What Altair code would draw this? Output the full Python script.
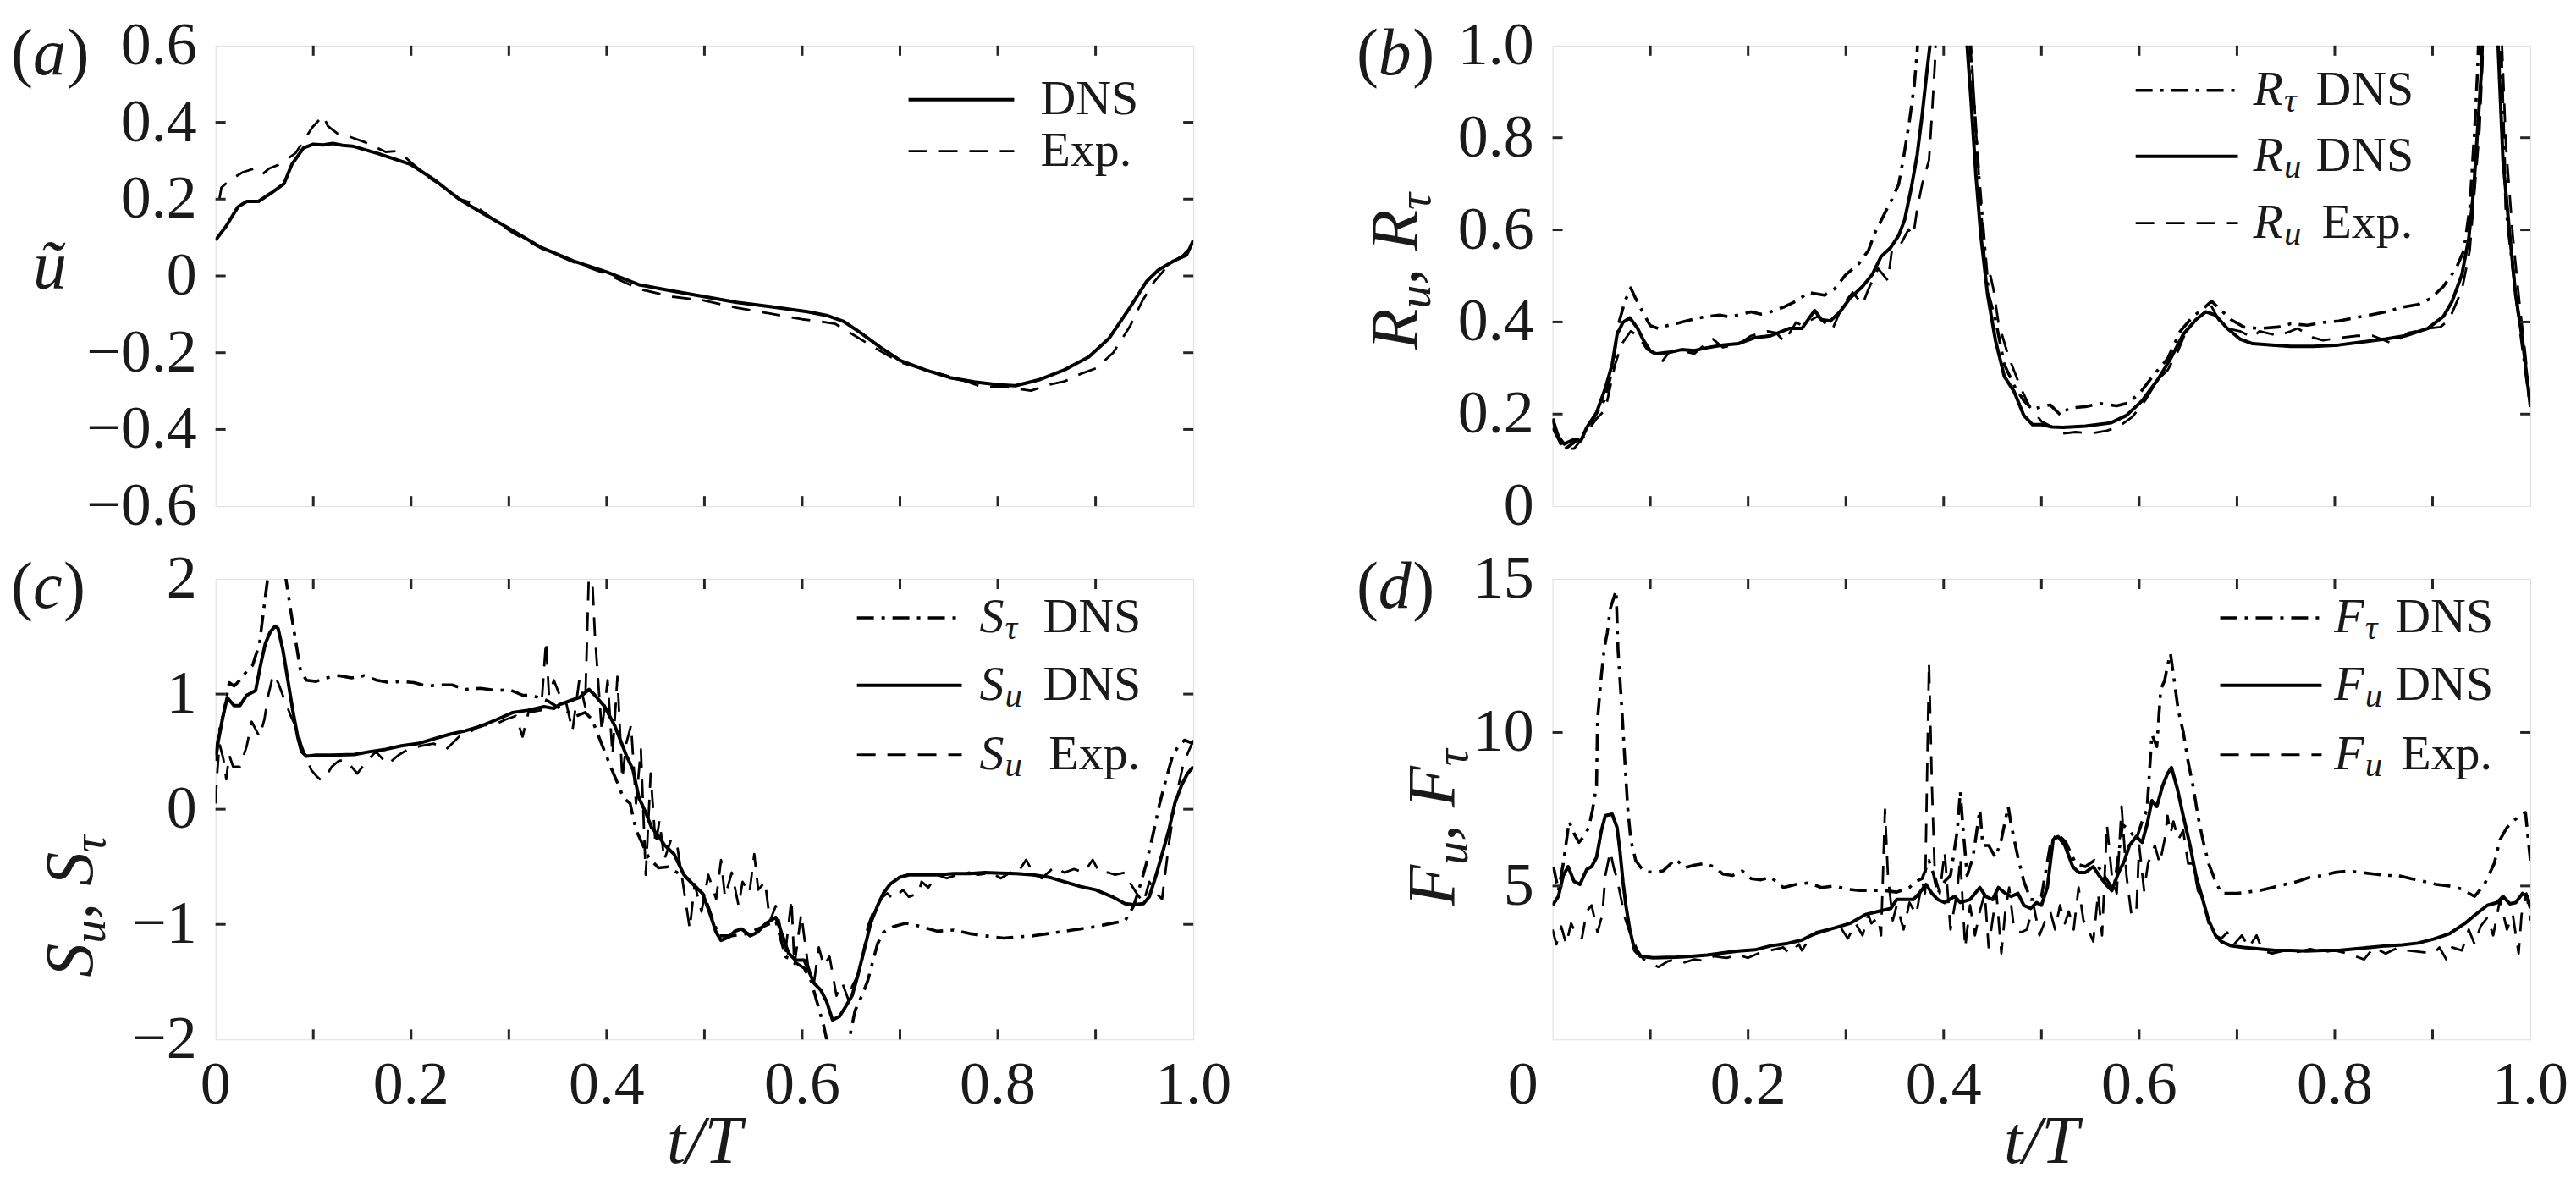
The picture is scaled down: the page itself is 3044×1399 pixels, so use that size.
import altair as alt
import pandas as pd

FONT = "Liberation Serif"
INK = "#262626"
TXT = "#1a1a1a"
W, H = 1157, 545
TL = 12
TICK = 72
PANEL = 78
AX = 80
SUBAX = 56
LEG = 58
SUBLEG = 41

# ---------------- data : panel (a)  u~ ----------------
A_DNS_T = [0.000, 0.011, 0.023, 0.032, 0.044, 0.057, 0.070, 0.078, 0.090, 0.100, 0.110, 0.120, 0.130,
           0.140, 0.166, 0.200, 0.224, 0.249, 0.274, 0.304, 0.333, 0.366, 0.400, 0.433, 0.467, 0.500,
           0.533, 0.567, 0.605, 0.625, 0.642, 0.659, 0.680, 0.700, 0.726, 0.751, 0.776, 0.801, 0.818,
           0.843, 0.868, 0.893, 0.914, 0.935, 0.952, 0.964, 0.980, 0.993, 1.000]
A_DNS_V = [0.093, 0.130, 0.180, 0.194, 0.194, 0.216, 0.240, 0.290, 0.333, 0.343, 0.341, 0.345, 0.340,
           0.338, 0.319, 0.290, 0.250, 0.200, 0.162, 0.118, 0.074, 0.039, 0.010, -0.023, -0.039, -0.054,
           -0.069, -0.080, -0.093, -0.103, -0.118, -0.147, -0.186, -0.220, -0.245, -0.265, -0.276, -0.284, -0.286,
           -0.270, -0.245, -0.211, -0.162, -0.083, -0.015, 0.015, 0.039, 0.054, 0.093]
A_EXP_T = [0.004, 0.006, 0.015, 0.028, 0.040, 0.048, 0.055, 0.065, 0.082, 0.099, 0.110, 0.115, 0.125,
           0.132, 0.140, 0.153, 0.174, 0.185, 0.190, 0.216, 0.240, 0.250, 0.262, 0.280, 0.304, 0.333,
           0.366, 0.400, 0.433, 0.467, 0.500, 0.533, 0.567, 0.600, 0.617, 0.634, 0.650, 0.680, 0.700,
           0.734, 0.768, 0.784, 0.809, 0.834, 0.851, 0.868, 0.885, 0.901, 0.918, 0.935, 0.948, 0.960,
           0.975, 0.990, 1.000]
A_EXP_V = [0.200, 0.230, 0.250, 0.270, 0.280, 0.265, 0.280, 0.290, 0.320, 0.387, 0.417, 0.390, 0.370,
           0.368, 0.360, 0.348, 0.323, 0.325, 0.318, 0.260, 0.220, 0.200, 0.190, 0.155, 0.112, 0.072,
           0.036, 0.005, -0.034, -0.054, -0.064, -0.083, -0.098, -0.113, -0.118, -0.125, -0.150, -0.196, -0.225,
           -0.250, -0.275, -0.289, -0.290, -0.299, -0.284, -0.275, -0.255, -0.240, -0.200, -0.132, -0.064, -0.015,
           0.030, 0.055, 0.085]

# ---------------- data : panel (b)  R ----------------
B_RT_T = [0.000, 0.004, 0.011, 0.022, 0.032, 0.041, 0.053, 0.061, 0.067, 0.074, 0.080, 0.085, 0.093,
          0.100, 0.108, 0.117, 0.126, 0.134, 0.142, 0.150, 0.158, 0.171, 0.180, 0.190, 0.203, 0.213,
          0.223, 0.236, 0.249, 0.262, 0.278, 0.288, 0.300, 0.313, 0.323, 0.330, 0.340, 0.347, 0.354,
          0.359, 0.365, 0.370, 0.373, 0.380, 0.390, 0.405, 0.420, 0.427, 0.432, 0.436, 0.441, 0.446,
          0.453, 0.462, 0.472, 0.482, 0.491, 0.500, 0.509, 0.520, 0.528, 0.545, 0.560, 0.577, 0.590,
          0.603, 0.616, 0.629, 0.642, 0.655, 0.665, 0.674, 0.684, 0.694, 0.707, 0.723, 0.742, 0.755,
          0.772, 0.788, 0.804, 0.820, 0.836, 0.852, 0.869, 0.885, 0.898, 0.911, 0.924, 0.932, 0.938,
          0.943, 0.946, 0.950, 0.958, 0.966, 0.970, 0.975, 0.982, 0.989, 0.995, 1.000]
B_RT_V = [0.190, 0.158, 0.122, 0.138, 0.158, 0.187, 0.230, 0.295, 0.392, 0.445, 0.474, 0.451, 0.418,
          0.392, 0.386, 0.392, 0.396, 0.401, 0.405, 0.409, 0.412, 0.415, 0.411, 0.415, 0.422, 0.417,
          0.422, 0.432, 0.445, 0.464, 0.458, 0.471, 0.503, 0.526, 0.555, 0.595, 0.637, 0.666, 0.699,
          0.757, 0.836, 0.914, 0.990, 1.300, 1.600, 1.800, 1.400, 1.000, 0.849, 0.718, 0.588, 0.458,
          0.405, 0.308, 0.262, 0.229, 0.210, 0.216, 0.220, 0.197, 0.213, 0.216, 0.223, 0.218, 0.225,
          0.252, 0.288, 0.320, 0.380, 0.412, 0.428, 0.445, 0.425, 0.405, 0.389, 0.386, 0.389, 0.396,
          0.393, 0.399, 0.402, 0.409, 0.415, 0.422, 0.432, 0.438, 0.451, 0.477, 0.516, 0.555, 0.647,
          0.816, 0.946, 1.200, 1.600, 1.200, 1.000, 0.647, 0.516, 0.392, 0.295, 0.216]
B_RU_T = [0.000, 0.006, 0.012, 0.022, 0.029, 0.035, 0.045, 0.054, 0.061, 0.066, 0.072, 0.079, 0.087,
          0.093, 0.100, 0.106, 0.119, 0.132, 0.145, 0.158, 0.174, 0.190, 0.207, 0.223, 0.242, 0.255,
          0.268, 0.275, 0.284, 0.294, 0.304, 0.317, 0.327, 0.336, 0.346, 0.354, 0.360, 0.367, 0.373,
          0.378, 0.383, 0.386, 0.395, 0.405, 0.415, 0.424, 0.428, 0.433, 0.438, 0.445, 0.453, 0.462,
          0.472, 0.482, 0.491, 0.500, 0.511, 0.522, 0.545, 0.571, 0.587, 0.603, 0.619, 0.632, 0.645,
          0.658, 0.668, 0.678, 0.690, 0.703, 0.716, 0.736, 0.755, 0.778, 0.804, 0.830, 0.852, 0.872,
          0.895, 0.911, 0.920, 0.930, 0.937, 0.942, 0.946, 0.950, 0.955, 0.960, 0.965, 0.967, 0.972,
          0.979, 0.985, 0.992, 1.000]
B_RU_V = [0.190, 0.151, 0.135, 0.145, 0.142, 0.171, 0.203, 0.256, 0.308, 0.373, 0.399, 0.409, 0.386,
          0.360, 0.337, 0.331, 0.334, 0.340, 0.338, 0.344, 0.350, 0.353, 0.366, 0.370, 0.386, 0.386,
          0.425, 0.405, 0.402, 0.422, 0.451, 0.477, 0.503, 0.542, 0.562, 0.588, 0.621, 0.692, 0.764,
          0.849, 0.947, 1.000, 1.500, 1.900, 1.500, 1.000, 0.880, 0.718, 0.588, 0.458, 0.360, 0.282,
          0.249, 0.197, 0.177, 0.177, 0.172, 0.171, 0.174, 0.181, 0.197, 0.229, 0.275, 0.320, 0.373,
          0.405, 0.422, 0.415, 0.386, 0.363, 0.353, 0.350, 0.347, 0.347, 0.350, 0.357, 0.363, 0.370,
          0.386, 0.412, 0.445, 0.503, 0.582, 0.686, 0.816, 0.947, 1.300, 1.600, 1.200, 1.000, 0.751,
          0.588, 0.458, 0.360, 0.216]
B_EXP_T = [0.000, 0.009, 0.015, 0.022, 0.032, 0.045, 0.054, 0.064, 0.071, 0.080, 0.087, 0.097, 0.105,
           0.111, 0.119, 0.132, 0.145, 0.155, 0.164, 0.174, 0.190, 0.203, 0.220, 0.229, 0.237, 0.249,
           0.255, 0.271, 0.286, 0.297, 0.307, 0.317, 0.323, 0.333, 0.343, 0.347, 0.356, 0.364, 0.369,
           0.373, 0.378, 0.385, 0.388, 0.391, 0.400, 0.415, 0.425, 0.428, 0.433, 0.438, 0.443, 0.448,
           0.451, 0.456, 0.466, 0.479, 0.488, 0.500, 0.512, 0.522, 0.535, 0.551, 0.567, 0.580, 0.593,
           0.606, 0.619, 0.629, 0.639, 0.648, 0.658, 0.664, 0.673, 0.681, 0.690, 0.703, 0.716, 0.723,
           0.742, 0.755, 0.762, 0.778, 0.788, 0.807, 0.823, 0.839, 0.859, 0.875, 0.895, 0.908, 0.917,
           0.930, 0.938, 0.943, 0.948, 0.951, 0.958, 0.965, 0.971, 0.975, 0.982, 0.989, 0.995, 1.000]
B_EXP_V = [0.170, 0.132, 0.125, 0.125, 0.151, 0.190, 0.210, 0.308, 0.353, 0.380, 0.370, 0.340, 0.330,
           0.311, 0.334, 0.337, 0.331, 0.350, 0.363, 0.345, 0.351, 0.370, 0.380, 0.376, 0.357, 0.399,
           0.393, 0.412, 0.383, 0.438, 0.464, 0.438, 0.471, 0.516, 0.490, 0.555, 0.568, 0.601, 0.588,
           0.647, 0.699, 0.751, 0.849, 0.960, 1.500, 1.800, 1.200, 1.000, 0.816, 0.653, 0.503, 0.500,
           0.470, 0.399, 0.327, 0.256, 0.216, 0.184, 0.171, 0.158, 0.161, 0.158, 0.164, 0.174, 0.194,
           0.229, 0.275, 0.295, 0.334, 0.380, 0.405, 0.415, 0.438, 0.405, 0.386, 0.380, 0.366, 0.380,
           0.370, 0.380, 0.386, 0.366, 0.360, 0.366, 0.370, 0.370, 0.353, 0.376, 0.386, 0.389, 0.405,
           0.470, 0.555, 0.686, 0.816, 0.960, 1.500, 1.400, 1.000, 0.784, 0.588, 0.438, 0.327, 0.216]

# ---------------- data : panel (c)  S ----------------
C_ST_T = [0.000, 0.004, 0.009, 0.014, 0.019, 0.025, 0.032, 0.038, 0.045, 0.050, 0.053, 0.060, 0.066,
          0.072, 0.077, 0.082, 0.087, 0.093, 0.103, 0.113, 0.126, 0.139, 0.152, 0.165, 0.178, 0.190,
          0.203, 0.216, 0.230, 0.242, 0.255, 0.271, 0.288, 0.300, 0.314, 0.323, 0.330, 0.340, 0.349,
          0.359, 0.369, 0.378, 0.385, 0.391, 0.398, 0.404, 0.412, 0.417, 0.424, 0.430, 0.437, 0.443,
          0.453, 0.463, 0.472, 0.482, 0.492, 0.500, 0.508, 0.515, 0.528, 0.544, 0.560, 0.573, 0.583,
          0.593, 0.602, 0.609, 0.615, 0.622, 0.625, 0.635, 0.645, 0.648, 0.654, 0.661, 0.667, 0.672,
          0.677, 0.683, 0.693, 0.706, 0.722, 0.738, 0.755, 0.771, 0.787, 0.806, 0.819, 0.836, 0.852,
          0.868, 0.884, 0.900, 0.917, 0.930, 0.939, 0.946, 0.952, 0.959, 0.965, 0.972, 0.979, 0.985,
          0.991, 1.000]
C_ST_V = [0.47, 0.68, 0.86, 1.10, 1.07, 1.12, 1.20, 1.25, 1.44, 1.78, 1.98, 2.30, 2.40,
          2.00, 1.72, 1.46, 1.20, 1.12, 1.11, 1.14, 1.16, 1.14, 1.16, 1.12, 1.10, 1.11,
          1.10, 1.07, 1.08, 1.08, 1.04, 1.05, 1.03, 1.04, 0.99, 0.99, 0.97, 0.94, 0.89,
          0.85, 0.81, 0.84, 0.78, 0.65, 0.50, 0.37, 0.21, 0.10, 0.05, -0.18, -0.31, -0.42,
          -0.51, -0.50, -0.55, -0.60, -0.68, -0.75, -0.95, -1.10, -1.10, -1.08, -1.02, -0.97, -1.28,
          -1.33, -1.38, -1.49, -1.67, -1.88, -2.00, -2.30, -2.20, -2.00, -1.75, -1.62, -1.49, -1.33,
          -1.17, -1.07, -1.02, -0.99, -1.02, -1.06, -1.05, -1.08, -1.10, -1.12, -1.11, -1.10, -1.08,
          -1.06, -1.04, -1.02, -0.99, -0.97, -0.84, -0.65, -0.47, -0.21, 0.03, 0.26, 0.47, 0.55,
          0.60, 0.57]
C_SU_T = [0.000, 0.003, 0.007, 0.012, 0.019, 0.025, 0.032, 0.041, 0.046, 0.051, 0.056, 0.061, 0.064,
          0.069, 0.074, 0.079, 0.084, 0.088, 0.093, 0.103, 0.119, 0.142, 0.158, 0.174, 0.190, 0.207,
          0.223, 0.239, 0.255, 0.271, 0.288, 0.304, 0.320, 0.336, 0.346, 0.352, 0.362, 0.372, 0.382,
          0.388, 0.398, 0.408, 0.414, 0.420, 0.427, 0.433, 0.440, 0.446, 0.453, 0.459, 0.469, 0.479,
          0.488, 0.498, 0.505, 0.512, 0.517, 0.525, 0.531, 0.538, 0.547, 0.554, 0.563, 0.573, 0.580,
          0.586, 0.593, 0.602, 0.607, 0.612, 0.619, 0.625, 0.631, 0.638, 0.644, 0.651, 0.657, 0.664,
          0.670, 0.677, 0.683, 0.690, 0.700, 0.709, 0.722, 0.738, 0.755, 0.771, 0.787, 0.803, 0.819,
          0.836, 0.852, 0.868, 0.884, 0.900, 0.917, 0.930, 0.939, 0.949, 0.955, 0.962, 0.968, 0.975,
          0.981, 0.988, 0.994, 1.000]
C_SU_V = [0.42, 0.60, 0.78, 0.97, 0.90, 0.90, 0.99, 1.03, 1.25, 1.44, 1.54, 1.59, 1.57,
          1.38, 1.12, 0.86, 0.63, 0.50, 0.46, 0.47, 0.47, 0.475, 0.50, 0.52, 0.55, 0.57,
          0.61, 0.65, 0.68, 0.72, 0.78, 0.84, 0.86, 0.89, 0.875, 0.91, 0.94, 0.97, 1.04,
          0.99, 0.89, 0.73, 0.60, 0.47, 0.34, 0.10, -0.03, -0.16, -0.23, -0.31, -0.39, -0.57,
          -0.65, -0.73, -0.89, -1.07, -1.14, -1.11, -1.06, -1.04, -1.10, -1.07, -0.99, -0.94, -1.10,
          -1.25, -1.31, -1.31, -1.41, -1.51, -1.57, -1.67, -1.83, -1.80, -1.72, -1.62, -1.44, -1.20,
          -0.99, -0.84, -0.73, -0.65, -0.59, -0.57, -0.57, -0.57, -0.56, -0.56, -0.55, -0.555, -0.56,
          -0.57, -0.59, -0.63, -0.67, -0.70, -0.76, -0.82, -0.83, -0.82, -0.76, -0.57, -0.39, -0.18,
          0.05, 0.21, 0.31, 0.37]
C_EXP_T = [0.000, 0.002, 0.004, 0.008, 0.011, 0.014, 0.018, 0.025, 0.032, 0.037, 0.045, 0.050, 0.054,
           0.059, 0.064, 0.071, 0.077, 0.084, 0.088, 0.093, 0.098, 0.103, 0.108, 0.114, 0.119, 0.126,
           0.132, 0.139, 0.145, 0.155, 0.164, 0.176, 0.187, 0.197, 0.210, 0.223, 0.236, 0.249, 0.262,
           0.271, 0.284, 0.297, 0.307, 0.314, 0.320, 0.333, 0.338, 0.341, 0.346, 0.352, 0.359, 0.365,
           0.372, 0.378, 0.383, 0.388, 0.395, 0.401, 0.406, 0.411, 0.416, 0.420, 0.425, 0.430, 0.435,
           0.440, 0.445, 0.450, 0.454, 0.459, 0.466, 0.472, 0.479, 0.485, 0.490, 0.497, 0.504, 0.512,
           0.517, 0.521, 0.528, 0.535, 0.539, 0.546, 0.551, 0.555, 0.562, 0.567, 0.573, 0.578, 0.583,
           0.589, 0.592, 0.599, 0.606, 0.612, 0.617, 0.622, 0.628, 0.635, 0.641, 0.648, 0.651, 0.657,
           0.662, 0.667, 0.674, 0.680, 0.687, 0.693, 0.703, 0.709, 0.719, 0.722, 0.729, 0.738, 0.748,
           0.758, 0.771, 0.780, 0.793, 0.803, 0.813, 0.819, 0.829, 0.836, 0.845, 0.858, 0.868, 0.878,
           0.888, 0.897, 0.904, 0.913, 0.920, 0.930, 0.936, 0.942, 0.949, 0.955, 0.962, 0.968, 0.975,
           0.982, 0.990, 1.000]
C_EXP_V = [0.05, 0.34, 0.57, 0.44, 0.26, 0.47, 0.37, 0.37, 0.55, 0.76, 0.63, 0.78, 0.99,
           1.17, 1.10, 0.94, 0.81, 0.68, 0.55, 0.44, 0.34, 0.29, 0.25, 0.30, 0.37, 0.42,
           0.43, 0.37, 0.31, 0.42, 0.50, 0.39, 0.47, 0.52, 0.55, 0.57, 0.52, 0.63, 0.68,
           0.73, 0.73, 0.78, 0.81, 0.63, 0.84, 0.86, 1.46, 0.99, 1.12, 0.99, 0.91, 0.68,
           1.12, 0.89, 2.40, 1.51, 0.68, 1.12, 0.47, 1.15, 0.26, 0.57, 0.73, 0.05, 0.52,
           -0.57, 0.31, -0.31, -0.10, -0.44, -0.26, -0.31, -0.70, -1.04, -0.65, -0.89, -0.57, -0.78,
           -0.44, -0.76, -0.55, -0.84, -0.63, -0.73, -0.39, -0.70, -0.63, -0.97, -0.84, -1.04, -1.23,
           -0.78, -1.36, -0.91, -1.36, -1.51, -1.20, -1.36, -1.28, -1.62, -1.51, -1.67, -1.54, -1.44,
           -1.28, -1.02, -0.86, -0.78, -0.73, -0.78, -0.70, -0.76, -0.73, -0.63, -0.68, -0.57, -0.60,
           -0.57, -0.55, -0.57, -0.55, -0.60, -0.55, -0.57, -0.44, -0.55, -0.60, -0.50, -0.55, -0.52,
           -0.55, -0.44, -0.55, -0.55, -0.57, -0.55, -0.65, -0.73, -0.81, -0.63, -0.73, -0.78, -0.30,
           0.10, 0.40, 0.60]

# ---------------- data : panel (d)  F ----------------
D_FT_T = [0.001, 0.006, 0.011, 0.017, 0.022, 0.027, 0.032, 0.037, 0.041, 0.045, 0.046, 0.050, 0.053,
          0.056, 0.059, 0.063, 0.065, 0.067, 0.071, 0.074, 0.077, 0.080, 0.085, 0.093, 0.103, 0.113,
          0.126, 0.135, 0.145, 0.155, 0.165, 0.174, 0.184, 0.194, 0.203, 0.213, 0.223, 0.236, 0.249,
          0.262, 0.275, 0.288, 0.301, 0.314, 0.326, 0.340, 0.352, 0.365, 0.372, 0.378, 0.385, 0.390,
          0.394, 0.401, 0.407, 0.414, 0.417, 0.420, 0.424, 0.430, 0.437, 0.440, 0.446, 0.453, 0.459,
          0.466, 0.469, 0.476, 0.482, 0.489, 0.495, 0.500, 0.509, 0.516, 0.525, 0.535, 0.545, 0.554,
          0.564, 0.574, 0.583, 0.590, 0.597, 0.603, 0.608, 0.613, 0.618, 0.622, 0.626, 0.629, 0.632,
          0.635, 0.640, 0.645, 0.650, 0.655, 0.660, 0.665, 0.671, 0.678, 0.684, 0.690, 0.700, 0.710,
          0.723, 0.736, 0.749, 0.762, 0.775, 0.788, 0.800, 0.814, 0.827, 0.840, 0.852, 0.865, 0.878,
          0.891, 0.904, 0.917, 0.930, 0.943, 0.953, 0.963, 0.969, 0.976, 0.982, 0.989, 0.995, 1.000]
D_FT_V = [5.63, 4.85, 5.73, 7.10, 6.71, 6.42, 6.61, 6.90, 7.49, 8.27, 10.42, 11.88, 12.76,
          13.25, 14.03, 14.42, 14.62, 12.67, 10.71, 9.05, 7.49, 6.51, 5.83, 5.49, 5.44, 5.49,
          5.88, 5.59, 5.68, 5.73, 5.63, 5.39, 5.34, 5.49, 5.24, 5.20, 5.29, 4.95, 5.05,
          5.10, 4.95, 5.00, 4.90, 4.85, 4.85, 4.85, 4.80, 4.95, 5.15, 5.24, 5.83, 5.34,
          4.76, 5.15, 5.34, 6.81, 8.08, 6.81, 5.34, 5.93, 7.49, 6.32, 6.32, 5.93, 6.51,
          7.59, 7.00, 5.93, 5.15, 4.56, 4.56, 4.66, 6.32, 6.71, 6.42, 5.73, 5.63, 5.83,
          5.34, 4.85, 7.00, 6.81, 6.51, 7.10, 7.49, 9.93, 9.54, 11.40, 11.69, 12.18, 12.57,
          11.88, 10.71, 10.03, 9.05, 8.27, 7.29, 6.51, 5.73, 5.15, 4.76, 4.76, 4.76, 4.80,
          4.85, 4.95, 5.05, 5.15, 5.29, 5.34, 5.44, 5.49, 5.44, 5.39, 5.34, 5.34, 5.24,
          5.15, 5.05, 5.00, 4.90, 4.66, 5.05, 5.73, 6.51, 6.90, 7.10, 7.29, 7.39, 5.83]
D_FU_T = [0.000, 0.006, 0.011, 0.016, 0.022, 0.028, 0.035, 0.040, 0.045, 0.050, 0.054, 0.061, 0.066,
          0.069, 0.072, 0.075, 0.079, 0.084, 0.090, 0.103, 0.126, 0.142, 0.158, 0.174, 0.190, 0.207,
          0.223, 0.239, 0.255, 0.271, 0.288, 0.304, 0.320, 0.333, 0.346, 0.352, 0.362, 0.369, 0.375,
          0.382, 0.388, 0.394, 0.401, 0.411, 0.417, 0.427, 0.437, 0.443, 0.450, 0.456, 0.463, 0.469,
          0.476, 0.482, 0.489, 0.495, 0.500, 0.506, 0.512, 0.517, 0.524, 0.532, 0.538, 0.545, 0.553,
          0.559, 0.566, 0.572, 0.579, 0.585, 0.590, 0.597, 0.603, 0.608, 0.613, 0.618, 0.624, 0.629,
          0.633, 0.639, 0.645, 0.652, 0.658, 0.665, 0.671, 0.678, 0.684, 0.694, 0.707, 0.723, 0.739,
          0.755, 0.771, 0.788, 0.804, 0.820, 0.836, 0.852, 0.869, 0.885, 0.901, 0.917, 0.933, 0.946,
          0.956, 0.966, 0.972, 0.979, 0.985, 0.992, 0.997, 1.000]
D_FU_V = [4.37, 4.66, 5.34, 5.63, 5.15, 5.05, 5.54, 5.63, 5.93, 6.81, 7.29, 7.34, 6.90,
          6.12, 5.15, 4.37, 3.58, 2.90, 2.71, 2.66, 2.68, 2.71, 2.75, 2.82, 2.88, 2.92,
          3.05, 3.12, 3.24, 3.49, 3.63, 3.78, 4.07, 4.17, 4.27, 4.56, 4.56, 4.56, 4.76,
          5.05, 4.76, 4.56, 4.46, 4.66, 4.46, 4.56, 4.95, 4.66, 4.56, 4.95, 4.76, 4.66,
          4.76, 4.37, 4.27, 4.46, 4.37, 4.95, 6.51, 6.61, 6.32, 5.63, 5.44, 5.44, 5.63,
          5.34, 5.05, 4.85, 5.44, 5.83, 6.32, 6.61, 6.42, 7.00, 7.78, 7.59, 8.27, 8.66,
          8.86, 8.17, 7.29, 6.32, 5.34, 4.56, 3.88, 3.39, 3.19, 3.05, 3.00, 2.95, 2.90,
          2.90, 2.88, 2.90, 2.90, 2.95, 3.00, 3.05, 3.08, 3.14, 3.27, 3.44, 3.78, 4.12,
          4.37, 4.46, 4.66, 4.42, 4.46, 4.76, 4.66, 4.27]
D_EXP_T = [0.000, 0.004, 0.009, 0.014, 0.019, 0.025, 0.030, 0.035, 0.040, 0.046, 0.051, 0.054, 0.059,
           0.063, 0.066, 0.069, 0.074, 0.080, 0.087, 0.093, 0.100, 0.108, 0.111, 0.118, 0.126, 0.135,
           0.145, 0.155, 0.165, 0.178, 0.190, 0.200, 0.210, 0.223, 0.236, 0.242, 0.252, 0.255, 0.265,
           0.275, 0.284, 0.294, 0.302, 0.310, 0.317, 0.323, 0.326, 0.333, 0.336, 0.340, 0.343, 0.348,
           0.352, 0.359, 0.365, 0.372, 0.378, 0.381, 0.385, 0.388, 0.391, 0.396, 0.401, 0.404, 0.407,
           0.414, 0.417, 0.422, 0.427, 0.432, 0.437, 0.442, 0.446, 0.450, 0.454, 0.459, 0.463, 0.467,
           0.472, 0.479, 0.485, 0.492, 0.498, 0.504, 0.509, 0.514, 0.519, 0.524, 0.528, 0.533, 0.538,
           0.543, 0.548, 0.553, 0.558, 0.562, 0.567, 0.572, 0.577, 0.582, 0.587, 0.592, 0.597, 0.600,
           0.605, 0.609, 0.616, 0.621, 0.626, 0.629, 0.632, 0.635, 0.640, 0.645, 0.650, 0.655, 0.660,
           0.665, 0.671, 0.678, 0.684, 0.690, 0.697, 0.705, 0.712, 0.720, 0.726, 0.736, 0.749, 0.762,
           0.775, 0.788, 0.800, 0.813, 0.830, 0.840, 0.852, 0.865, 0.875, 0.888, 0.901, 0.907, 0.914,
           0.920, 0.930, 0.937, 0.943, 0.949, 0.956, 0.962, 0.969, 0.976, 0.982, 0.988, 0.991, 0.996,
           1.000]
D_EXP_V = [3.58, 3.10, 3.68, 3.10, 3.78, 3.39, 3.29, 4.17, 4.37, 3.49, 4.07, 5.34, 6.12,
           5.54, 5.24, 4.76, 3.97, 3.39, 2.90, 2.61, 2.51, 2.36, 2.41, 2.55, 2.61, 2.51,
           2.61, 2.56, 2.71, 2.66, 2.75, 2.66, 2.80, 2.90, 3.00, 2.80, 3.10, 2.90, 3.39,
           3.49, 3.58, 3.68, 3.29, 3.78, 3.39, 4.07, 3.78, 3.97, 3.39, 7.49, 5.34, 3.88,
           4.37, 3.58, 4.46, 4.07, 5.15, 4.76, 12.28, 8.27, 5.34, 4.76, 6.12, 4.85, 3.58,
           4.85, 5.93, 2.99, 4.37, 3.39, 4.17, 4.76, 3.00, 3.88, 4.76, 2.80, 4.17, 4.95,
           3.58, 3.49, 3.58, 4.37, 3.39, 3.88, 4.17, 3.58, 4.37, 3.78, 4.17, 3.58, 4.95,
           3.88, 3.58, 3.19, 4.76, 3.39, 7.00, 5.34, 4.76, 7.59, 5.34, 4.07, 4.07, 6.32,
           4.85, 5.73, 6.32, 5.73, 6.51, 7.29, 6.71, 7.10, 6.51, 6.81, 5.73, 5.73, 4.85,
           4.56, 3.78, 3.39, 3.29, 3.49, 3.10, 3.39, 3.00, 3.39, 2.90, 2.80, 2.90, 2.85,
           2.95, 2.85, 2.90, 2.80, 2.61, 3.00, 2.80, 3.00, 2.90, 2.85, 2.80, 3.00, 2.61,
           3.00, 2.90, 3.58, 3.10, 3.68, 3.97, 3.39, 4.56, 3.58, 4.07, 2.80, 4.07, 4.76,
           3.88]

# ---------------- tick values and tick labels ----------------
X_LAB_V = [0, 0.2, 0.4, 0.6, 0.8, 1.0]
X_LAB_S = ["0", "0.2", "0.4", "0.6", "0.8", "1.0"]
X_TICKS = [0.1, 0.2, 0.3, 0.4, 0.5, 0.6, 0.7, 0.8, 0.9]
A_YLAB_V = [-0.6, -0.4, -0.2, 0, 0.2, 0.4, 0.6]
A_YLAB_S = ["\u22120.6", "\u22120.4", "\u22120.2", "0", "0.2", "0.4", "0.6"]
A_YTK = [-0.4, -0.2, 0, 0.2, 0.4]
B_YLAB_V = [0, 0.2, 0.4, 0.6, 0.8, 1.0]
B_YLAB_S = ["0", "0.2", "0.4", "0.6", "0.8", "1.0"]
B_YTK = [0.2, 0.4, 0.6, 0.8]
C_YLAB_V = [-2, -1, 0, 1, 2]
C_YLAB_S = ["\u22122", "\u22121", "0", "1", "2"]
C_YTK = [-1, 0, 1]
D_YLAB_V = [5, 10, 15]
D_YLAB_S = ["5", "10", "15"]
D_YTK = [5, 10]

SOLID = dict(strokeWidth=4.0)
DASHDOT = dict(strokeWidth=3.6, strokeDash=[20, 9, 4, 9])
DASHED = dict(strokeWidth=2.8, strokeDash=[22, 14])

ONE = pd.DataFrame({"k": [0]})


def text(s, x, y, size, style="normal", angle=0, align="left", baseline="middle"):
    return alt.Chart(ONE).mark_text(
        text=s, font=FONT, fontSize=size, fontStyle=style, angle=angle,
        align=align, baseline=baseline, color=TXT
    ).encode(x=alt.value(x), y=alt.value(y))


def seg(x1, x2, y, style):
    return alt.Chart(ONE).mark_rule(color="black", **style).encode(
        x=alt.value(x1), x2=alt.value(x2), y=alt.value(y))


def panel_label(letter, x0, ybase):
    adv = {"a": 0.5, "b": 0.5, "c": 0.444, "d": 0.5}[letter]
    return [
        text("(", x0, ybase, PANEL, baseline="alphabetic"),
        text(letter, x0 + 0.333 * PANEL, ybase, PANEL, style="italic", baseline="alphabetic"),
        text(")", x0 + (0.333 + adv + 0.02) * PANEL, ybase, PANEL, baseline="alphabetic"),
    ]


def vtitle(sym, sym_w, xb, ymid):
    parts = [(sym, AX, sym_w, False), ("u", SUBAX, 0.5, True), (",", AX, 0.5, False),
             (sym, AX, sym_w, False), ("\u03c4", SUBAX, 0.44, True)]
    total = sum(p[1] * p[2] for p in parts)
    y = ymid + total / 2
    out = []
    for s, size, wem, sub in parts:
        out.append(text(s, xb + (15 if sub else 0), y, size, style="italic", angle=270,
                        align="left", baseline="alphabetic"))
        y -= size * wem
    return out


def sym_legend(sym, sym_w, x1, x2, xt, rows, name_dx):
    out = []
    for y, style, sub, name in rows:
        out.append(seg(x1, x2, y, style))
        out.append(text(sym, xt, y, LEG, style="italic"))
        out.append(text(sub, xt + sym_w * LEG + 1, y + 13, SUBLEG, style="italic"))
        out.append(text(name, xt + name_dx + (7 if name == "Exp." else 0), y, LEG))
    return out


def panel(series, ydom, ylab_v, ylab_s, ytk, bottom, extra, zero_shift=0):
    xs = alt.Scale(domain=[0, 1], nice=False, zero=False)
    ys = alt.Scale(domain=ydom, nice=False, zero=False)
    layers = []
    for t, v, style in series:
        df = pd.DataFrame({"t": t, "v": v})
        layers.append(
            alt.Chart(df).mark_line(clip=True, color="black", strokeJoin="round", **style).encode(
                x=alt.X("t:Q", scale=xs, axis=None),
                y=alt.Y("v:Q", scale=ys, axis=None),
            )
        )
    xt = pd.DataFrame({"t": X_TICKS})
    yt = pd.DataFrame({"v": ytk})
    tk = dict(color=INK, strokeWidth=3)
    layers += [
        alt.Chart(xt).mark_rule(**tk).encode(x=alt.X("t:Q", scale=xs, axis=None),
                                             y=alt.value(0), y2=alt.value(TL)),
        alt.Chart(xt).mark_rule(**tk).encode(x=alt.X("t:Q", scale=xs, axis=None),
                                             y=alt.value(H - TL), y2=alt.value(H)),
        alt.Chart(yt).mark_rule(**tk).encode(y=alt.Y("v:Q", scale=ys, axis=None),
                                             x=alt.value(0), x2=alt.value(TL)),
        alt.Chart(yt).mark_rule(**tk).encode(y=alt.Y("v:Q", scale=ys, axis=None),
                                             x=alt.value(W - TL), x2=alt.value(W)),
    ]
    # y tick labels
    yl = pd.DataFrame({"v": ylab_v, "lab": ylab_s})
    layers.append(
        alt.Chart(yl).mark_text(align="right", baseline="middle", font=FONT, fontSize=TICK,
                                color=TXT).encode(
            y=alt.Y("v:Q", scale=ys, axis=None), x=alt.value(-22), text="lab:N"))
    if bottom:
        xl = pd.DataFrame({"t": X_LAB_V, "lab": X_LAB_S})
        first = xl.iloc[:1]
        rest = xl.iloc[1:]
        for part, dx in ((first, zero_shift), (rest, 0)):
            layers.append(
                alt.Chart(part).mark_text(align="center", baseline="top", font=FONT,
                                          fontSize=TICK, color=TXT, dx=dx).encode(
                    x=alt.X("t:Q", scale=xs, axis=None), y=alt.value(H + 19), text="lab:N"))
        layers.append(text("t/T", W / 2, H + 146, AX, style="italic", align="center",
                           baseline="alphabetic"))
    layers += extra
    return alt.layer(*layers).properties(width=W, height=H)


# ---- panel (a)
a_extra = panel_label("a", -242, 34) + [text("\u0169", -196, 288, AX, style="italic",
                                             align="center", baseline="alphabetic")]
a_extra += [seg(820, 945, 64, SOLID), text("DNS", 976, 64, LEG),
            seg(820, 945, 125, DASHED), text("Exp.", 976, 125, LEG)]
pa = panel([(A_DNS_T, A_DNS_V, SOLID), (A_EXP_T, A_EXP_V, DASHED)],
           [-0.6, 0.6], A_YLAB_V, A_YLAB_S, A_YTK, False, a_extra)

# ---- panel (b)
b_extra = panel_label("b", -232, 34) + vtitle("R", 0.611, -160, 265)
b_extra += sym_legend("R", 0.611, 690, 811, 829,
                      [(53, DASHDOT, "\u03c4", "DNS"), (131, SOLID, "u", "DNS"),
                       (210, DASHED, "u", "Exp.")], 74)
pb = panel([(B_RU_T, B_RU_V, SOLID), (B_RT_T, B_RT_V, DASHDOT), (B_EXP_T, B_EXP_V, DASHED)],
           [0, 1], B_YLAB_V, B_YLAB_S, B_YTK, False, b_extra)

# ---- panel (c)
c_extra = panel_label("c", -242, 34) + vtitle("S", 0.5, -146, 385)
c_extra += sym_legend("S", 0.5, 759, 883, 904,
                      [(46, DASHDOT, "\u03c4", "DNS"), (126, SOLID, "u", "DNS"),
                       (208, DASHED, "u", "Exp.")], 75)
pc = panel([(C_SU_T, C_SU_V, SOLID), (C_ST_T, C_ST_V, DASHDOT), (C_EXP_T, C_EXP_V, DASHED)],
           [-2, 2], C_YLAB_V, C_YLAB_S, C_YTK, True, c_extra)

# ---- panel (d)
d_extra = panel_label("d", -232, 34) + vtitle("F", 0.611, -116, 292)
d_extra += sym_legend("F", 0.611, 790, 910, 925,
                      [(46, DASHDOT, "\u03c4", "DNS"), (126, SOLID, "u", "DNS"),
                       (208, DASHED, "u", "Exp.")], 72)
pd_ = panel([(D_FU_T, D_FU_V, SOLID), (D_FT_T, D_FT_V, DASHDOT), (D_EXP_T, D_EXP_V, DASHED)],
            [0, 15], D_YLAB_V, D_YLAB_S, D_YTK, True, d_extra, zero_shift=-35)

chart = alt.concat(pa, pb, pc, pd_, columns=2, spacing={"row": 86, "column": 425},
                   bounds="flush").properties(
    padding={"left": 4, "top": 8, "right": 0, "bottom": 0})
chart = chart.configure_view(stroke=INK, strokeWidth=3).configure(background="white")

chart.save("out.html", embed_options={"renderer": "svg", "actions": False})
